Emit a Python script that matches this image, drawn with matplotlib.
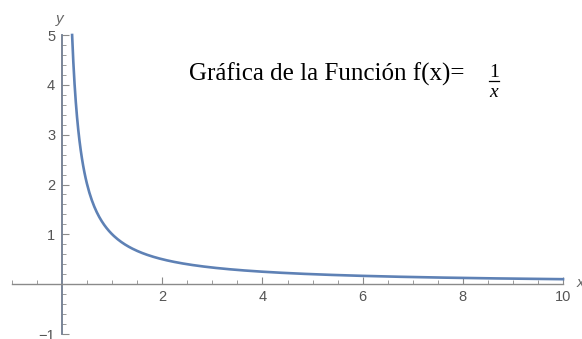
import matplotlib.pyplot as plt
from matplotlib.lines import Line2D
import numpy as np

# datos de la curva f(x) = 1/x
x_vals = np.linspace(0.2, 10, 400)
y_vals = 1 / x_vals

x_major = [2, 4, 6, 8, 10]
y_major = [-1, 1, 2, 3, 4, 5]
x_minor = np.arange(-1, 10.01, 0.5)
y_minor = np.arange(-1, 5.01, 0.2)

gris = "#8a8a8a"
azul = "#5E81B5"

fig = plt.figure(figsize=(5.82, 3.39), dpi=100)
ax = fig.add_axes([12 / 582, 5 / 339, 551 / 582, 299 / 339])

ax.plot(x_vals, y_vals, color=azul, linewidth=1.9, clip_on=False)

ax.set_xlim(-1, 10)
ax.set_ylim(-1, 5)

ax.spines["left"].set_position(("data", 0))
ax.spines["bottom"].set_position(("data", 0))
ax.spines["right"].set_visible(False)
ax.spines["top"].set_visible(False)
ax.spines["left"].set_color("#6f7c90")
ax.spines["bottom"].set_color(gris)
ax.spines["left"].set_linewidth(1.3)
ax.spines["bottom"].set_linewidth(1.0)

ax.set_xticks(x_major)
ax.set_xticks([v for v in x_minor if v not in x_major and v != 0], minor=True)
ax.set_yticks(y_major)
ax.set_yticks([v for v in y_minor if round(v, 1) not in y_major and abs(v) > 1e-6], minor=True)
ax.set_yticklabels(["\u22121", "1", "2", "3", "4", "5"])

ax.tick_params(axis="both", which="major", direction="in", length=5, width=0.8,
               color=gris, labelcolor="#555555", labelsize=10.5)
ax.tick_params(axis="both", which="minor", direction="in", length=2.8, width=0.6, color=gris)
ax.tick_params(axis="x", which="major", pad=4)
ax.tick_params(axis="y", which="major", pad=5)

for lbl in ax.get_xticklabels() + ax.get_yticklabels():
    lbl.set_fontfamily("Liberation Sans")

ax.text(-0.05, 5.18, "y", fontsize=11, style="italic", color="#666666",
        ha="center", va="bottom", family="Liberation Sans")
ax.text(10.27, 0.02, "x", fontsize=11, style="italic", color="#666666",
        ha="left", va="center", family="Liberation Sans", clip_on=False)

fig.text(189 / 582, 1 - 81 / 339, "Gráfica de la Función f(x)=", fontsize=18,
         family="Liberation Serif", ha="left", va="baseline")
fig.text(494 / 582, 1 - 77 / 339, "1", fontsize=14, family="Liberation Serif",
         ha="center", va="baseline")
fig.add_artist(Line2D([489 / 582, 499 / 582], [1 - 80.5 / 339, 1 - 80.5 / 339],
                      color="black", linewidth=0.9, transform=fig.transFigure))
fig.text(494 / 582, 1 - 97 / 339, "x", fontsize=14, family="Liberation Serif",
         style="italic", ha="center", va="baseline")

fig.savefig("out.png", dpi=100)
